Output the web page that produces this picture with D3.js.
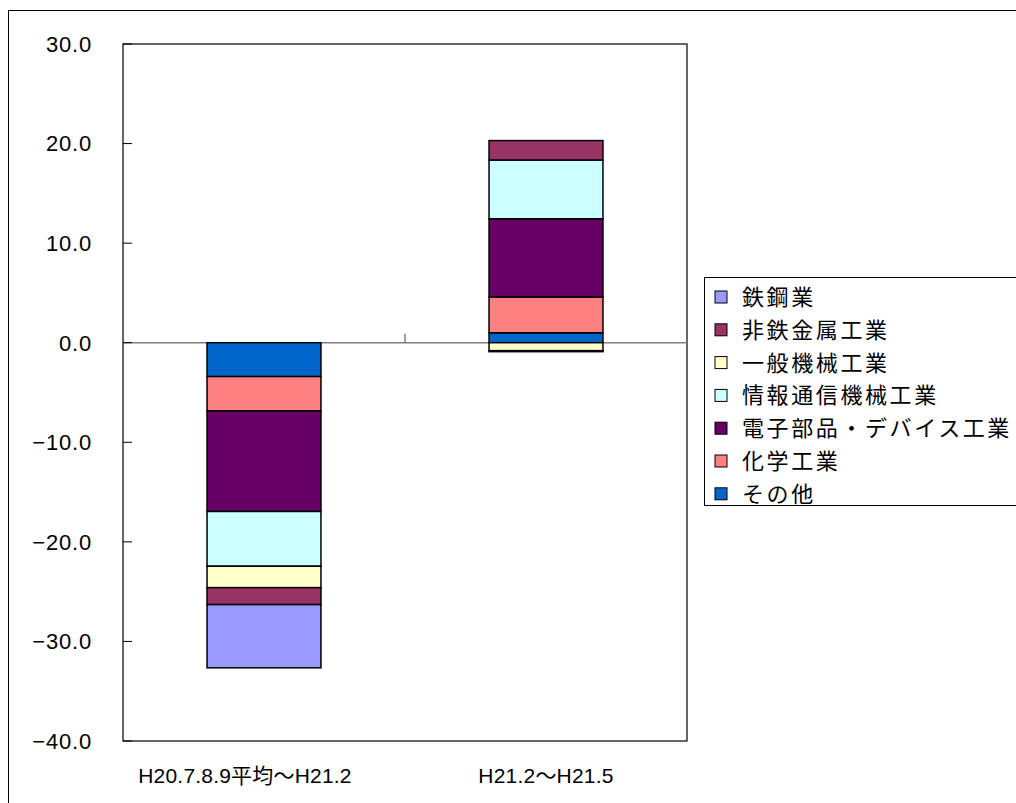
<!DOCTYPE html>
<html>
<head>
<meta charset="utf-8">
<script src="https://cdn.jsdelivr.net/npm/d3@7"></script>
<style>
    body { margin: 0; background: #fff; }
    text { font-family: "Liberation Sans", Arial, "Noto Sans CJK JP", sans-serif; fill: #000; }
    .jp { font-family: "Noto Sans CJK JP", "Liberation Sans", sans-serif; }
</style>
</head>
<body>
<div id="chart"></div>
<script>
// categories on the x axis
const categories = ["H20.7.8.9平均～H21.2", "H21.2～H21.5"];

// industries (legend order)
const industries = ["鉄鋼業", "非鉄金属工業", "一般機械工業", "情報通信機械工業", "電子部品・デバイス工業", "化学工業", "その他"];

// contribution values per industry, one per category
const tekko    = [-6.35, -0.1];
const hitetsu  = [-1.7, 1.95];
const ippan    = [-2.15, -0.8];
const joho     = [-5.5, 5.9];
const denshi   = [-10.1, 7.85];
const kagaku   = [-3.45, 3.6];
const sonota   = [-3.4, 1.0];

const yTicks = [30, 20, 10, 0, -10, -20, -30, -40];

const colors = ["#9999FF", "#993366", "#FFFFCC", "#CCFFFF", "#660066", "#FF8080", "#0066CC"];

const seriesValues = [tekko, hitetsu, ippan, joho, denshi, kagaku, sonota];

// table for d3.stack
const table = categories.map((c, i) => {
    let row = { category: c };
    industries.forEach((k, j) => row[k] = seriesValues[j][i]);
    return row;
});

let width = 1016, height = 803;
let margin = { top: 44, right: 329, bottom: 62, left: 123 };

let svg = d3.select("#chart").append("svg")
    .attr("width", width)
    .attr("height", height);

// outer chart frame
svg.append("rect")
    .attr("x", 8.5).attr("y", 10.5)
    .attr("width", 1030).attr("height", 820)
    .attr("fill", "none")
    .attr("stroke", "#000")
    .attr("stroke-width", 1);

let x = d3.scaleBand()
    .domain(categories)
    .range([margin.left, width - margin.right])
    .paddingInner(0.596)
    .paddingOuter(0.298);

let y = d3.scaleLinear()
    .domain([-40, 30])
    .range([height - margin.bottom, margin.top]);

// Excel stacks the last legend entry nearest to zero
let stack = d3.stack()
    .keys(industries.slice().reverse())
    .offset(d3.stackOffsetDiverging);

let stacked = stack(table);

let colorScale = d3.scaleOrdinal().domain(industries).range(colors);

// plot area
svg.append("rect")
    .attr("x", margin.left)
    .attr("y", margin.top)
    .attr("width", width - margin.right - margin.left)
    .attr("height", height - margin.bottom - margin.top)
    .attr("fill", "#fff")
    .attr("stroke", "#000")
    .attr("stroke-width", 1.2);

// zero line
svg.append("line")
    .attr("x1", margin.left).attr("x2", width - margin.right)
    .attr("y1", y(0)).attr("y2", y(0))
    .attr("stroke", "#808080")
    .attr("stroke-width", 1.5);

// category divider tick on zero line
let step = x.step();
svg.append("line")
    .attr("x1", margin.left + step).attr("x2", margin.left + step)
    .attr("y1", y(0)).attr("y2", y(0) - 9)
    .attr("stroke", "#808080")
    .attr("stroke-width", 1.5);

// y ticks (inside) and labels
svg.selectAll(".ytick")
    .data(yTicks)
    .enter().append("line")
    .attr("class", "ytick")
    .attr("x1", margin.left).attr("x2", margin.left + 9)
    .attr("y1", d => y(d)).attr("y2", d => y(d))
    .attr("stroke", "#000");

svg.selectAll(".ylabel")
    .data(yTicks)
    .enter().append("text")
    .attr("class", "ylabel")
    .attr("x", 92)
    .attr("y", d => y(d))
    .attr("dy", "0.36em")
    .attr("text-anchor", "end")
    .style("font-size", "22px")
    .style("letter-spacing", "0.8px")
    .text(d => (d < 0 ? "\u2212" : "") + Math.abs(d).toFixed(1));

// bars
svg.append("g")
    .selectAll("g")
    .data(stacked)
    .enter().append("g")
    .attr("fill", d => colorScale(d.key))
    .selectAll("rect")
    .data(d => d)
    .enter().append("rect")
    .attr("x", d => x(d.data.category))
    .attr("width", x.bandwidth())
    .attr("y", d => y(Math.max(d[0], d[1])))
    .attr("height", d => Math.abs(y(d[0]) - y(d[1])))
    .attr("stroke", "#000")
    .attr("stroke-width", 1.5);

// category labels
svg.selectAll(".xlabel")
    .data(categories)
    .enter().append("text")
    .attr("class", "xlabel")
    .attr("x", d => x(d) + x.bandwidth() / 2)
    .attr("dx", (d, i) => i == 0 ? -19 : 0)
    .attr("y", 775)
    .attr("dy", "0.36em")
    .attr("text-anchor", "middle")
    .style("font-size", "21px")
    .style("letter-spacing", "0.2px")
    .text(d => d);

// legend
let legend = svg.append("g");
legend.append("rect")
    .attr("x", 704.5).attr("y", 277.5)
    .attr("width", 330).attr("height", 228)
    .attr("fill", "#fff")
    .attr("stroke", "#000")
    .attr("stroke-width", 1);

let item = legend.selectAll(".item")
    .data(industries)
    .enter().append("g")
    .attr("class", "item")
    .attr("transform", (d, i) => "translate(715," + (297 + i * 32.8) + ")");

item.append("rect")
    .attr("x", 0).attr("y", -6)
    .attr("width", 12).attr("height", 12)
    .attr("fill", d => colorScale(d))
    .attr("stroke", "#000")
    .attr("stroke-width", 1);

item.append("text")
    .attr("class", "jp")
    .attr("x", 27)
    .attr("dy", "0.36em")
    .style("font-size", "22px")
    .style("letter-spacing", "2.6px")
    .text(d => d);
</script>
</body>
</html>
